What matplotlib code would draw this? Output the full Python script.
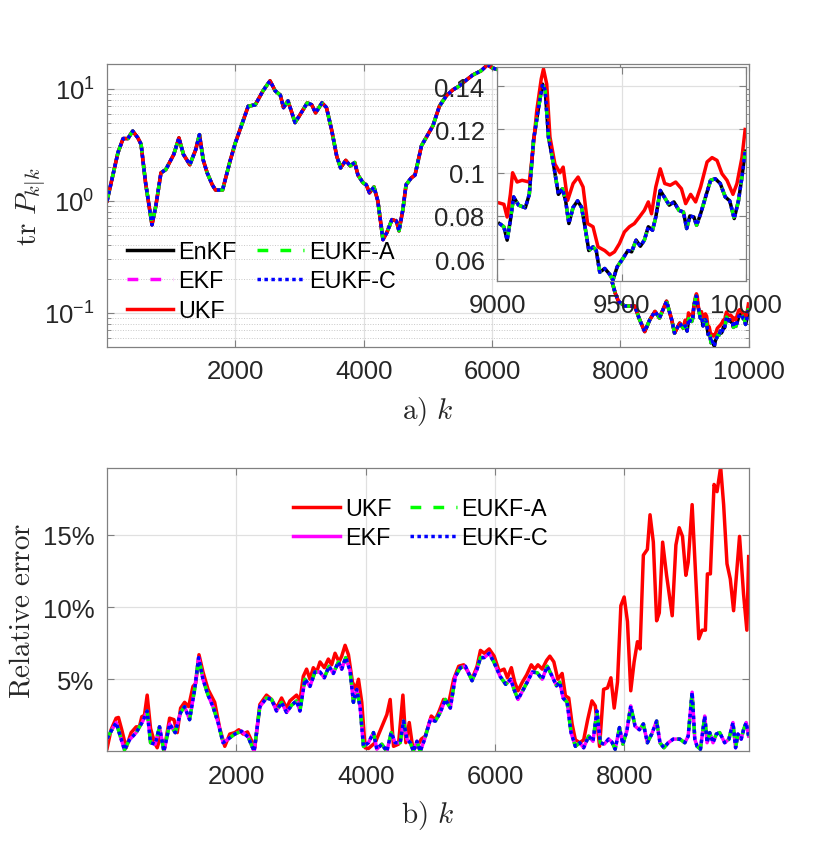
import matplotlib
matplotlib.use('Agg')
import matplotlib.pyplot as plt
import numpy as np
from matplotlib.ticker import FuncFormatter, NullFormatter, LogLocator, PercentFormatter

plt.rcParams['font.family'] = ['Liberation Sans', 'DejaVu Sans']

# ---- a) trace of the posterior covariance (all filters nearly on top of each other up to k~9000)
k_top = [0, 170, 250, 325, 400, 480, 530, 600, 700, 760, 840, 915, 990, 1040, 1120, 1190,
         1290, 1380, 1440, 1500, 1560, 1640, 1690, 1800, 1920, 2000, 2110, 2200, 2310, 2430,
         2540, 2620, 2700, 2750, 2820, 2930, 3010, 3120, 3190, 3250, 3350, 3420, 3500, 3580,
         3640, 3720, 3790, 3860, 3910, 3990, 4040, 4090, 4160, 4220, 4300, 4360, 4440, 4510,
         4550, 4610, 4660, 4740, 4800, 4900, 5000, 5080, 5180, 5290, 5390, 5490, 5600, 5700,
         5830, 5930, 6000, 6150, 6350, 6550, 6750, 6950, 7150, 7350, 7550, 7700, 7850, 7920,
         7970, 8070, 8225, 8300, 8380, 8460, 8540, 8610, 8720, 8800, 8845, 8925, 8980]
tr_common = [1.0, 2.7, 3.6, 3.6, 4.2, 3.65, 3.2, 1.45, 0.61, 0.9, 1.78, 1.9, 2.3, 2.6, 3.65,
             2.6, 2.1, 2.85, 3.9, 2.3, 1.78, 1.39, 1.25, 1.25, 2.3, 3.3, 5.0, 7.0, 7.2, 9.6,
             11.8, 9.6, 8.8, 6.8, 7.8, 5.0, 5.9, 7.5, 7.2, 6.1, 7.5, 6.8, 4.3, 2.5, 1.97, 2.3,
             2.05, 2.2, 1.7, 1.45, 1.39, 1.18, 1.33, 1.0, 0.45, 0.52, 0.68, 0.66, 0.54, 0.83,
             1.39, 1.6, 1.7, 3.1, 3.9, 4.7, 7.0, 8.7, 9.8, 10.6, 12.0, 13.3, 14.5, 16.4, 15.4,
             14.5, 12.0, 9.0, 6.0, 3.5, 2.0, 1.1, 0.6, 0.35, 0.21, 0.15, 0.127, 0.115, 0.115,
             0.087, 0.068, 0.087, 0.103, 0.090, 0.127, 0.087, 0.066, 0.081, 0.073]

# tail 9000..10000 (also shown in the inset)
k_tail = [9009, 9027, 9040, 9053, 9066, 9086, 9113, 9129, 9146, 9166, 9182, 9193, 9206, 9226,
          9246, 9262, 9275, 9288, 9305, 9323, 9339, 9355, 9368, 9385, 9398, 9412, 9432, 9452,
          9465, 9482, 9505, 9525, 9540, 9558, 9575, 9591, 9607, 9624, 9637, 9655, 9671, 9691,
          9710, 9730, 9748, 9761, 9774, 9790, 9801, 9817, 9837, 9857, 9876, 9896, 9916, 9934,
          9952, 9969, 9983, 9996]
tr_tail = [0.0765, 0.075, 0.0688, 0.078, 0.0888, 0.085, 0.0838, 0.090, 0.115, 0.130, 0.141,
           0.138, 0.1165, 0.104, 0.090, 0.0926, 0.087, 0.0765, 0.084, 0.087, 0.084, 0.0734,
           0.064, 0.0657, 0.064, 0.054, 0.0557, 0.053, 0.0503, 0.0565, 0.0603, 0.064, 0.0634,
           0.0688, 0.066, 0.0688, 0.075, 0.0734, 0.0795, 0.0918, 0.0888, 0.085, 0.0865, 0.0826,
           0.0818, 0.0742, 0.080, 0.0795, 0.0757, 0.081, 0.0888, 0.0965, 0.0972, 0.095, 0.0888,
           0.087, 0.0788, 0.087, 0.098, 0.110]
k_tail_ukf = [9009, 9027, 9040, 9053, 9062, 9080, 9100, 9129, 9142, 9159, 9177, 9186, 9199,
              9212, 9232, 9252, 9265, 9283, 9305, 9325, 9345, 9363, 9385, 9405, 9432, 9452,
              9471, 9491, 9511, 9531, 9551, 9571, 9591, 9607, 9620, 9637, 9655, 9673, 9695,
              9717, 9740, 9757, 9777, 9797, 9817, 9843, 9863, 9883, 9903, 9923, 9947, 9963,
              9983, 9996]
tr_tail_ukf = [0.086, 0.0854, 0.0795, 0.090, 0.100, 0.0957, 0.0965, 0.0957, 0.1088, 0.1288,
               0.1434, 0.148, 0.141, 0.1165, 0.104, 0.100, 0.1026, 0.0872, 0.095, 0.098, 0.0934,
               0.0765, 0.075, 0.0657, 0.064, 0.062, 0.0634, 0.0672, 0.0726, 0.075, 0.0765,
               0.0795, 0.0826, 0.0865, 0.081, 0.0934, 0.1018, 0.095, 0.0942, 0.0957, 0.0926,
               0.0857, 0.090, 0.0865, 0.0934, 0.105, 0.107, 0.1057, 0.0995, 0.0965, 0.090,
               0.095, 0.107, 0.120]

# ---- b) relative error w.r.t. EnKF, in percent
k_ukf = [0, 62, 140, 176, 227, 295, 372, 450, 500, 537, 578, 620, 672, 734, 775, 827, 889, 967,
         1034, 1085, 1137, 1199, 1261, 1328, 1370, 1421, 1483, 1561, 1664, 1742, 1820, 1897,
         1975, 2037, 2104, 2171, 2222, 2284, 2362, 2465, 2543, 2620, 2698, 2775, 2827, 2930,
         2982, 3034, 3085, 3137, 3189, 3240, 3292, 3359, 3421, 3473, 3525, 3587, 3628, 3680,
         3732, 3794, 3845, 3887, 3938, 3990, 4041, 4145, 4248, 4326, 4377, 4429, 4506, 4574,
         4620, 4672, 4723, 4790, 4858, 4920, 5013, 5075, 5127, 5204, 5282, 5359, 5437, 5514,
         5576, 5643, 5721, 5773, 5831, 5908, 5985, 6062, 6138, 6190, 6251, 6303, 6354, 6421,
         6487, 6559, 6610, 6662, 6728, 6795, 6846, 6908, 6969, 7036, 7087, 7138, 7190, 7241,
         7308, 7369, 7431, 7497, 7549, 7615, 7677, 7738, 7790, 7841, 7892, 7944, 7995, 8046,
         8097, 8149, 8200, 8241, 8292, 8354, 8395, 8446, 8497, 8538, 8590, 8651, 8738, 8795,
         8846, 8897, 8949, 8985, 9046, 9103, 9149, 9200, 9251, 9282, 9328, 9385, 9431, 9487,
         9533, 9585, 9636, 9687, 9779, 9841, 9892, 9920]
err_ukf = [0.2, 1.5, 2.3, 2.35, 1.5, 0.25, 1.3, 1.7, 1.7, 2.4, 2.5, 3.9, 1.6, 0.6, 0.25, 1.06,
           0.25, 2.3, 2.2, 1.3, 3.0, 3.4, 3.1, 4.5, 4.7, 6.7, 5.5, 4.3, 3.4, 1.6, 0.35, 1.2, 1.3,
           1.5, 1.2, 1.35, 0.85, 0.25, 3.25, 3.9, 3.6, 3.0, 3.7, 3.0, 3.5, 3.9, 3.5, 5.2, 5.7,
           5.0, 5.8, 5.5, 6.2, 5.8, 6.4, 6.0, 6.8, 6.2, 6.6, 7.35, 6.7, 4.8, 4.3, 5.0, 3.4, 0.25,
           0.2, 0.6, 1.7, 2.55, 3.6, 0.35, 0.5, 3.9, 0.6, 2.0, 0.35, 0.3, 0.85, 1.06, 2.45, 2.2,
           2.7, 3.6, 3.35, 5.0, 5.9, 6.0, 5.55, 5.0, 5.9, 7.0, 6.8, 7.1, 6.6, 5.55, 5.7, 5.1,
           5.8, 4.8, 4.2, 4.8, 5.3, 6.0, 5.7, 6.0, 5.7, 6.3, 6.6, 6.2, 5.0, 5.4, 3.85, 3.7, 1.9,
           0.8, 0.6, 0.8, 2.2, 3.5, 3.15, 0.35, 4.3, 4.4, 5.1, 3.0, 4.8, 10.1, 10.7, 9.0, 4.2,
           6.2, 7.6, 7.1, 13.6, 14.0, 16.4, 14.5, 9.05, 9.6, 14.5, 12.2, 9.4, 14.3, 15.5, 14.9,
           12.2, 13.1, 17.1, 11.9, 7.8, 8.4, 8.4, 12.3, 12.3, 18.5, 18.0, 19.7, 17.1, 13.0,
           11.95, 9.75, 14.9, 10.9, 8.4, 13.5]

k_eukf = [0, 62, 140, 269, 346, 450, 553, 620, 672, 744, 811, 879, 967, 1054, 1137, 1199, 1276,
          1354, 1416, 1483, 1561, 1638, 1716, 1793, 1871, 1974, 2078, 2181, 2274, 2362, 2465,
          2543, 2620, 2698, 2775, 2853, 2930, 2982, 3059, 3137, 3214, 3292, 3359, 3431, 3499,
          3576, 3628, 3690, 3757, 3809, 3860, 3912, 3964, 4041, 4119, 4171, 4248, 4326, 4393,
          4455, 4532, 4584, 4636, 4687, 4739, 4791, 4842, 4910, 4997, 5075, 5152, 5230, 5307,
          5385, 5462, 5540, 5643, 5721, 5773, 5831, 5908, 5985, 6077, 6164, 6241, 6292, 6354,
          6436, 6508, 6574, 6651, 6728, 6805, 6882, 6949, 7000, 7051, 7113, 7174, 7241, 7308,
          7369, 7446, 7513, 7574, 7626, 7687, 7754, 7805, 7856, 7923, 7974, 8036, 8097, 8164,
          8231, 8292, 8354, 8421, 8497, 8549, 8610, 8677, 8754, 8856, 8933, 8985, 9046, 9087,
          9123, 9174, 9241, 9277, 9318, 9369, 9421, 9472, 9549, 9615, 9677, 9718, 9754, 9805,
          9841, 9882, 9920]
err_eukf = [0.9, 1.4, 2.0, 0.1, 0.8, 1.3, 2.1, 2.8, 0.6, 0.5, 1.7, 0.0, 1.9, 1.3, 2.7, 3.1,
            2.2, 4.3, 6.5, 5.0, 3.9, 3.1, 2.0, 0.6, 0.85, 1.2, 1.4, 1.0, 0.0, 3.1, 3.7, 3.6,
            2.8, 3.4, 2.7, 3.2, 3.5, 2.8, 5.0, 4.5, 5.5, 5.5, 5.1, 5.9, 5.4, 6.2, 5.7, 6.5, 5.6,
            3.4, 4.3, 3.1, 0.35, 0.6, 1.3, 0.15, 0.5, 0.0, 1.3, 0.6, 0.6, 2.1, 0.85, 0.6, 0.0,
            0.7, 0.0, 0.85, 2.2, 2.1, 2.7, 3.6, 3.0, 5.2, 5.8, 5.9, 4.9, 5.7, 6.5, 6.5, 6.8,
            6.15, 5.2, 4.65, 5.0, 4.3, 3.6, 4.3, 4.9, 5.5, 5.45, 5.0, 5.9, 5.2, 4.55, 4.8, 3.7,
            3.4, 1.3, 0.35, 0.6, 0.25, 1.06, 0.7, 2.8, 0.6, 0.5, 0.85, 0.65, 0.15, 1.65, 0.5,
            1.4, 3.15, 1.75, 1.5, 1.9, 0.6, 1.2, 2.1, 0.6, 0.25, 0.6, 0.85, 0.85, 0.6, 1.06,
            4.1, 0.85, 0.35, 0.15, 2.45, 0.6, 1.3, 0.6, 1.2, 1.3, 0.6, 0.85, 2.0, 0.25, 1.2,
            0.85, 1.5, 2.0, 1.06]

ink = '#262626'
edge = '#808080'
lw = 2.5
dash = (0, (3.1, 3.5))
dot = (0, (1, 1))


def matlab_look(ax):
    for s in ax.spines.values():
        s.set_color(edge)
        s.set_linewidth(0.9)
    ax.tick_params(which='both', direction='in', top=True, right=True,
                   color=edge, labelcolor=ink, labelsize=18.5)
    ax.tick_params(which='major', length=5, pad=9)
    ax.tick_params(which='minor', length=3)
    ax.grid(which='major', color='#e0e0e0', lw=0.9, ls='-')
    ax.set_axisbelow(True)


fig = plt.figure(figsize=(8.3, 8.54), dpi=100)

# ---------------- top panel
ax1 = fig.add_axes([0.129, 0.593, 0.773, 0.331])
k_all = np.array(k_top + k_tail)
tr_all = np.array(tr_common + tr_tail)
k_all_ukf = np.array(k_top + k_tail_ukf)
tr_all_ukf = np.array(tr_common + tr_tail_ukf)

ax1.plot(k_all, tr_all, color='k', lw=lw, ls='-', label='EnKF')
ax1.plot(k_all, tr_all, color='#ff00ff', lw=lw, ls=dash, label='EKF')
ax1.plot(k_all_ukf, tr_all_ukf, color='#ff0000', lw=lw, ls='-', label='UKF')
ax1.plot(k_all, tr_all, color='#00ff00', lw=lw, ls=dash, label='EUKF-A')
ax1.plot(k_all, tr_all, color='#0000ff', lw=lw, ls=dot, label='EUKF-C')
ax1.set_yscale('log')
ax1.set_xlim(0, 10000)
ax1.set_ylim(0.05, 16.7)
ax1.set_xticks([2000, 4000, 6000, 8000, 10000])
ax1.yaxis.set_minor_locator(LogLocator(base=10, subs=np.arange(2, 10)))
ax1.yaxis.set_minor_formatter(NullFormatter())
matlab_look(ax1)
ax1.grid(which='minor', axis='y', color='#c8c8c8', lw=0.7, ls=':')
ax1.set_xlabel(r'$\mathrm{a)}\ k$', fontsize=21, math_fontfamily='cm', color=ink, va='top')
ax1.xaxis.set_label_coords(0.5, -0.166)
ax1.set_ylabel(r'$\mathrm{tr}\ P_{k|k}$', fontsize=21, math_fontfamily='cm', color=ink)
ax1.yaxis.set_label_coords(-0.090, 0.498)
ax1.legend(ncol=2, loc='upper left', bbox_to_anchor=(0.005, 0.435), frameon=False,
           fontsize=16.8, handlelength=2.0, handletextpad=0.2, columnspacing=0.9,
           labelspacing=0.28, borderpad=0.2)

# inset
axi = fig.add_axes([0.599, 0.670, 0.300, 0.2506])
axi.set_facecolor('white')
axi.plot(k_tail, tr_tail, color='k', lw=lw, ls='-')
axi.plot(k_tail, tr_tail, color='#ff00ff', lw=lw, ls=dash)
axi.plot(k_tail_ukf, tr_tail_ukf, color='#ff0000', lw=lw, ls='-')
axi.plot(k_tail, tr_tail, color='#00ff00', lw=lw, ls=dash)
axi.plot(k_tail, tr_tail, color='#0000ff', lw=lw, ls=dot)
axi.set_xlim(9000, 10000)
axi.set_ylim(0.05, 0.149)
axi.set_xticks([9000, 9500, 10000])
axi.set_yticks([0.06, 0.08, 0.1, 0.12, 0.14])
axi.yaxis.set_major_formatter(FuncFormatter(lambda v, p: '%g' % v))
matlab_look(axi)

# ---------------- bottom panel
ax2 = fig.add_axes([0.129, 0.119, 0.773, 0.332])
ax2.plot(k_ukf, err_ukf, color='#ff0000', lw=lw, ls='-', label='UKF')
ax2.plot(k_eukf, err_eukf, color='#ff00ff', lw=lw, ls='-', label='EKF')
ax2.plot(k_eukf, err_eukf, color='#00ff00', lw=lw, ls=dash, label='EUKF-A')
ax2.plot(k_eukf, err_eukf, color='#0000ff', lw=lw, ls=dot, label='EUKF-C')
ax2.set_xlim(0, 9920)
ax2.set_ylim(0, 19.65)
ax2.set_xticks([2000, 4000, 6000, 8000])
ax2.set_yticks([5, 10, 15])
ax2.yaxis.set_major_formatter(PercentFormatter(xmax=100, decimals=0))
matlab_look(ax2)
ax2.set_xlabel(r'$\mathrm{b)}\ k$', fontsize=21, math_fontfamily='cm', color=ink, va='top')
ax2.xaxis.set_label_coords(0.5, -0.166)
ax2.set_ylabel(r'$\mathrm{Relative\ error}$', fontsize=21, math_fontfamily='cm', color=ink)
ax2.yaxis.set_label_coords(-0.111, 0.5)
ax2.legend(ncol=2, loc='upper left', bbox_to_anchor=(0.265, 0.955), frameon=False,
           fontsize=16.8, handlelength=2.0, handletextpad=0.2, columnspacing=0.8,
           labelspacing=0.28, borderpad=0.2)

fig.savefig('out.png', dpi=100)
